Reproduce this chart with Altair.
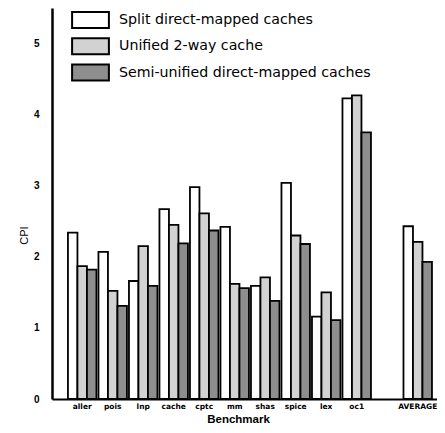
import altair as alt
import pandas as pd

benchmarks = ["aller", "pois", "lnp", "cache", "cptc", "mm", "shas", "spice", "lex", "oc1", "AVERAGE"]
split = [2.34, 2.07, 1.66, 2.67, 2.98, 2.42, 1.59, 3.04, 1.16, 4.23, 2.43]
unified = [1.87, 1.52, 2.15, 2.45, 2.61, 1.62, 1.71, 2.30, 1.50, 4.27, 2.21]
semi = [1.82, 1.31, 1.59, 2.19, 2.37, 1.56, 1.38, 2.18, 1.11, 3.75, 1.93]
series = ["Split direct-mapped caches", "Unified 2-way cache", "Semi-unified direct-mapped caches"]
fills = ["#ffffff", "#d2d2d2", "#8e8e8e"]
x_domain = benchmarks[:-1] + ["gap"] + benchmarks[-1:]

rows = []
for name, vals in zip(series, [split, unified, semi]):
    for b, v in zip(benchmarks, vals):
        rows.append({"benchmark": b, "series": name, "cpi": v})
df = pd.DataFrame(rows)

FONT = "Liberation Sans"
WIDE = "DejaVu Sans"

chart = alt.Chart(df).mark_bar(stroke="black", strokeWidth=1.8).encode(
    x=alt.X(
        "benchmark:N",
        scale=alt.Scale(domain=x_domain, paddingInner=0.066, paddingOuter=0.344, align=0.76),
        axis=alt.Axis(
            title="Benchmark",
            labelExpr="datum.label == 'gap' ? '' : datum.label",
            labelAngle=0, ticks=False, tickSize=0,
            labelFont=WIDE, labelFontSize=7.5, labelFontWeight="bold", labelColor="black",
            labelPadding=3,
            titleFont=FONT, titleFontSize=11.5, titleFontWeight="bold", titleColor="black",
            titlePadding=4, titleX=186,
            domainWidth=2, domainColor="black",
        ),
    ),
    xOffset=alt.XOffset("series:N", sort=series, scale=alt.Scale(domain=series, paddingInner=0, paddingOuter=0)),
    y=alt.Y(
        "cpi:Q",
        scale=alt.Scale(domain=[0, 5.5], nice=False),
        axis=alt.Axis(
            values=[0, 1, 2, 3, 4, 5], title="CPI", grid=False, ticks=False, tickSize=0,
            labelFont=FONT, labelFontSize=10, labelFontWeight="bold", labelColor="black",
            labelPadding=13,
            titleFont=FONT, titleFontSize=11, titleFontWeight="normal", titleColor="black",
            titlePadding=4, titleY=227,
            domainWidth=2.5, domainColor="black",
        ),
    ),
    color=alt.Color(
        "series:N",
        sort=series,
        scale=alt.Scale(domain=series, range=fills),
        legend=alt.Legend(
            title=None, orient="none", legendX=29.5, legendY=3,
            symbolType="M-2.3,-1H2.3V1H-2.3Z", symbolSize=256,
            symbolStrokeColor="black", symbolStrokeWidth=2, symbolOpacity=1,
            labelFont=WIDE, labelFontSize=14.2, labelColor="black", labelOffset=19.5,
            labelLimit=400, rowPadding=2.3,
        ),
    ),
).properties(
    width=385, height=391,
    padding={"left": 10, "top": 0, "right": 0, "bottom": 5},
).configure_view(stroke=None)

chart.save("out.html", embed_options={"renderer": "svg", "actions": False})
